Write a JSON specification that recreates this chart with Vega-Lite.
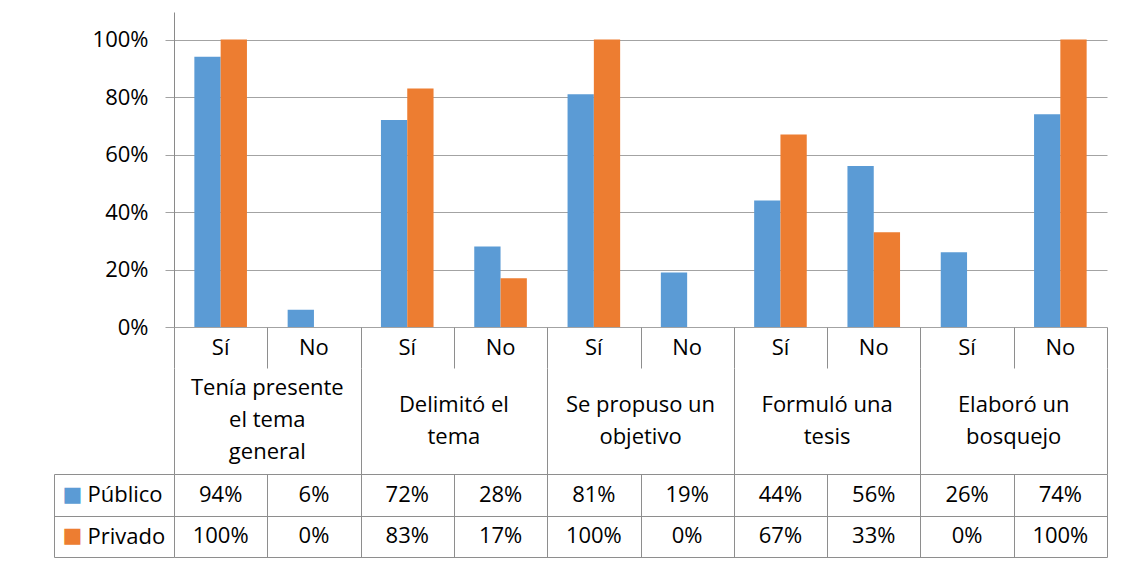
{
  "$schema": "https://vega.github.io/schema/vega-lite/v6.json",
  "padding": {"left": 53, "top": 12, "right": 10, "bottom": 4},
  "autosize": {"type": "pad"},
  "spacing": 0,
  "bounds": "flush",
  "config": {
    "view": {"stroke": null},
    "font": "Open Sans",
    "text": {"font": "Open Sans", "fontSize": 22, "color": "#000000"},
    "axis": {"labelFont": "Open Sans", "labelFontSize": 22, "labelColor": "#000000", "title": null}
  },
  "datasets": {
    "barras": [
      {"grupo": "Tenía presente el tema general", "respuesta": "Sí", "columna": "Tenía presente el tema general – Sí", "serie": "Público", "valor": 0.94},
      {"grupo": "Tenía presente el tema general", "respuesta": "Sí", "columna": "Tenía presente el tema general – Sí", "serie": "Privado", "valor": 1.00},
      {"grupo": "Tenía presente el tema general", "respuesta": "No", "columna": "Tenía presente el tema general – No", "serie": "Público", "valor": 0.06},
      {"grupo": "Tenía presente el tema general", "respuesta": "No", "columna": "Tenía presente el tema general – No", "serie": "Privado", "valor": 0.00},
      {"grupo": "Delimitó el tema", "respuesta": "Sí", "columna": "Delimitó el tema – Sí", "serie": "Público", "valor": 0.72},
      {"grupo": "Delimitó el tema", "respuesta": "Sí", "columna": "Delimitó el tema – Sí", "serie": "Privado", "valor": 0.83},
      {"grupo": "Delimitó el tema", "respuesta": "No", "columna": "Delimitó el tema – No", "serie": "Público", "valor": 0.28},
      {"grupo": "Delimitó el tema", "respuesta": "No", "columna": "Delimitó el tema – No", "serie": "Privado", "valor": 0.17},
      {"grupo": "Se propuso un objetivo", "respuesta": "Sí", "columna": "Se propuso un objetivo – Sí", "serie": "Público", "valor": 0.81},
      {"grupo": "Se propuso un objetivo", "respuesta": "Sí", "columna": "Se propuso un objetivo – Sí", "serie": "Privado", "valor": 1.00},
      {"grupo": "Se propuso un objetivo", "respuesta": "No", "columna": "Se propuso un objetivo – No", "serie": "Público", "valor": 0.19},
      {"grupo": "Se propuso un objetivo", "respuesta": "No", "columna": "Se propuso un objetivo – No", "serie": "Privado", "valor": 0.00},
      {"grupo": "Formuló una tesis", "respuesta": "Sí", "columna": "Formuló una tesis – Sí", "serie": "Público", "valor": 0.44},
      {"grupo": "Formuló una tesis", "respuesta": "Sí", "columna": "Formuló una tesis – Sí", "serie": "Privado", "valor": 0.67},
      {"grupo": "Formuló una tesis", "respuesta": "No", "columna": "Formuló una tesis – No", "serie": "Público", "valor": 0.56},
      {"grupo": "Formuló una tesis", "respuesta": "No", "columna": "Formuló una tesis – No", "serie": "Privado", "valor": 0.33},
      {"grupo": "Elaboró un bosquejo", "respuesta": "Sí", "columna": "Elaboró un bosquejo – Sí", "serie": "Público", "valor": 0.26},
      {"grupo": "Elaboró un bosquejo", "respuesta": "Sí", "columna": "Elaboró un bosquejo – Sí", "serie": "Privado", "valor": 0.00},
      {"grupo": "Elaboró un bosquejo", "respuesta": "No", "columna": "Elaboró un bosquejo – No", "serie": "Público", "valor": 0.74},
      {"grupo": "Elaboró un bosquejo", "respuesta": "No", "columna": "Elaboró un bosquejo – No", "serie": "Privado", "valor": 1.00}
    ],
    "grupos": [
      {"grupo": "Tenía presente el tema general", "etiqueta": ["Tenía presente", "el tema", "general"]},
      {"grupo": "Delimitó el tema", "etiqueta": ["Delimitó el", "tema"]},
      {"grupo": "Se propuso un objetivo", "etiqueta": ["Se propuso un", "objetivo"]},
      {"grupo": "Formuló una tesis", "etiqueta": ["Formuló una", "tesis"]},
      {"grupo": "Elaboró un bosquejo", "etiqueta": ["Elaboró un", "bosquejo"]}
    ]
  },
  "vconcat": [
    {
      "width": 933,
      "height": 315,
      "data": {"name": "barras"},
      "mark": {"type": "bar"},
      "encoding": {
        "x": {"field": "columna", "type": "nominal", "sort": null, "scale": {"paddingInner": 0, "paddingOuter": 0}, "axis": null},
        "xOffset": {"field": "serie", "type": "nominal", "sort": ["Público", "Privado"], "scale": {"paddingInner": 0, "paddingOuter": 0.774}},
        "y": {
          "field": "valor", "type": "quantitative",
          "scale": {"domain": [0, 1.0957], "nice": false, "zero": true},
          "axis": {
            "values": [0, 0.2, 0.4, 0.6, 0.8, 1],
            "format": ".0%",
            "grid": true, "gridColor": "#a3a3a3", "gridWidth": 1,
            "domain": true, "domainColor": "#8a8a8a",
            "ticks": true, "tickSize": 9, "tickColor": "#a3a3a3",
            "labelPadding": 17
          }
        },
        "color": {"field": "serie", "type": "nominal", "sort": ["Público", "Privado"], "scale": {"range": ["#5B9BD5", "#ED7D31"]}, "legend": null}
      }
    },
    {
      "width": 933,
      "height": 41,
      "data": {"name": "barras"},
      "transform": [{"filter": "datum.serie === 'Público'"}],
      "mark": {"type": "text", "baseline": "middle", "align": "center"},
      "encoding": {
        "x": {"field": "columna", "type": "nominal", "sort": null, "scale": {"paddingInner": 0, "paddingOuter": 0},
          "axis": {"tickBand": "extent", "grid": true, "gridColor": "#8e8e8e", "domain": false, "ticks": false, "labels": false}},
        "text": {"field": "respuesta", "type": "nominal"}
      }
    },
    {
      "width": 933,
      "height": 106,
      "data": {"name": "grupos"},
      "encoding": {
        "x": {"field": "grupo", "type": "nominal", "sort": null, "scale": {"paddingInner": 0, "paddingOuter": 0},
          "axis": {"tickBand": "extent", "grid": true, "gridColor": "#8e8e8e", "domain": false, "ticks": false, "labels": false}},
        "text": {"field": "etiqueta", "type": "nominal"}
      },
      "layer": [
        {
          "transform": [{"filter": "length(datum.etiqueta) === 3"}],
          "mark": {"type": "text", "baseline": "middle", "align": "center", "lineHeight": 32, "dy": -33}
        },
        {
          "transform": [{"filter": "length(datum.etiqueta) === 2"}],
          "mark": {"type": "text", "baseline": "middle", "align": "center", "lineHeight": 32, "dy": -16}
        }
      ]
    },
    {
      "width": 933,
      "height": 83,
      "data": {"name": "barras"},
      "layer": [
        {
          "mark": {"type": "text", "baseline": "middle", "align": "center"},
          "encoding": {
            "x": {"field": "columna", "type": "nominal", "sort": null, "scale": {"paddingInner": 0, "paddingOuter": 0},
              "axis": {"tickBand": "extent", "grid": true, "gridColor": "#8e8e8e", "domain": false, "ticks": false, "labels": false}},
            "y": {"field": "serie", "type": "nominal", "sort": ["Público", "Privado"], "scale": {"paddingInner": 0, "paddingOuter": 0},
              "axis": {"orient": "left", "tickBand": "extent", "grid": true, "gridColor": "#8e8e8e", "domain": false,
                "ticks": true, "tickSize": 120, "tickColor": "#8e8e8e",
                "labelAlign": "left", "labelBaseline": "middle", "labelPadding": -33}},
            "text": {"field": "valor", "type": "quantitative", "format": ".0%"}
          }
        },
        {
          "mark": {"type": "point", "opacity": 0},
          "encoding": {
            "y": {"field": "serie", "type": "nominal", "sort": ["Público", "Privado"],
              "axis": {"orient": "left", "offset": 120, "domain": true, "domainColor": "#8e8e8e", "ticks": false, "tickSize": 0,
                "labelExpr": "'■'", "labelFont": "DejaVu Sans", "labelFontSize": 21,
                "labelAlign": "left", "labelBaseline": "middle", "labelPadding": -8,
                "labelColor": {"condition": {"test": "datum.value === 'Público'", "value": "#5B9BD5"}, "value": "#ED7D31"}}}
          }
        }
      ],
      "resolve": {"axis": {"y": "independent"}}
    }
  ],
  "resolve": {"scale": {"x": "independent", "y": "independent", "color": "independent"}}
}
